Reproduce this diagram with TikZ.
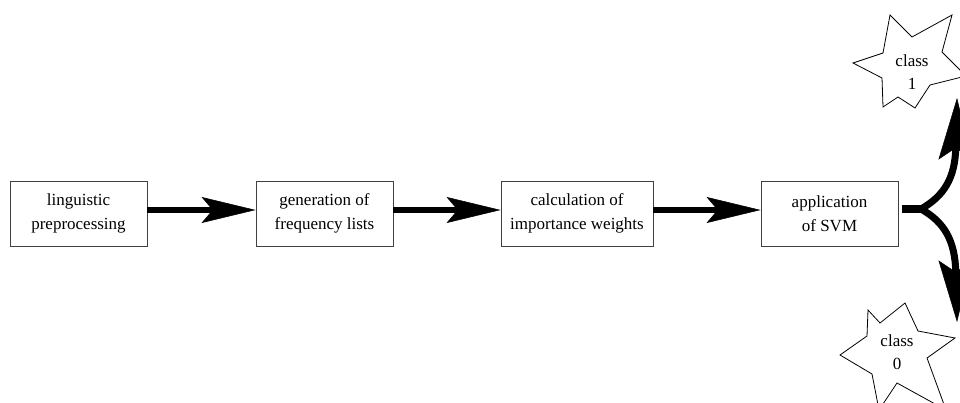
\documentclass[tikz,border=0pt]{standalone}
\usepackage{fontspec}
\newfontfamily\timesfont{Liberation Serif}
\usetikzlibrary{arrows.meta}
\begin{document}
\begin{tikzpicture}[x=1pt,y=-1pt,
  txt/.style={align=center, inner sep=0pt, font=\timesfont\fontsize{17}{23.5}\selectfont},
  box/.style={txt, draw=black!75, line width=0.9pt, minimum width=137pt, minimum height=65pt},
  flow/.style={line width=6pt, -{Stealth[length=54pt,width=26pt,inset=11pt,line width=0.5pt]}},
  stub/.style={line width=8pt},
  branch/.style={line width=7pt, -{Stealth[length=62pt,width=34pt,inset=12pt,line width=0.5pt]}},
  starline/.style={draw=black, line width=0.8pt, line join=miter}]
\useasboundingbox (0,0) rectangle (960,403);
\fill[white] (0,0) rectangle (960,403);

\node[box] (b1) at (78.5,213.5) {linguistic\\preprocessing};
\node[box] (b2) at (324.5,213.5) {generation of\\frequency lists};
\node[box, minimum width=152pt] (b3) at (577,213.5) {calculation of\\importance weights};
\node[box] (b4) at (829.5,213.5) {application\\of SVM};

% stars
\draw[starline] (853,63) -- (883,53) -- (890,15) -- (912,37) -- (952,15) -- (942,52) -- (966,76) -- (930,85) -- (915,108) -- (898,97) -- (883,107) -- (882,78) -- cycle;
\node[txt] (c1) at (912,72) {class\\1};
\draw[starline] (868,310) -- (880,323) -- (905,303) -- (918,331) -- (955,338) -- (927,358) -- (946,410) -- (897,383) -- (879,410) -- (872,374) -- (840,355) -- (867,336) -- cycle;
\node[txt] (c0) at (897,352) {class\\0};

% connectors
\draw[flow] ([yshift=3.5pt]b1.east) -- ([yshift=3.5pt]b2.west);
\draw[flow] ([yshift=3.5pt]b2.east) -- ([yshift=3.5pt]b3.west);
\draw[flow] ([yshift=3.5pt]b3.east) -- ([yshift=3.5pt]b4.west);

\coordinate (fork) at (921,209);
\coordinate (up) at (957,98);
\coordinate (down) at (957,322);
\draw[stub] ([xshift=4pt,yshift=4.5pt]b4.east) -- (fork);
\draw[branch] (fork) .. controls (944,196) and (955,178) .. (up);
\draw[branch] (fork) .. controls (944,222) and (955,240) .. (down);
\end{tikzpicture}
\end{document}
